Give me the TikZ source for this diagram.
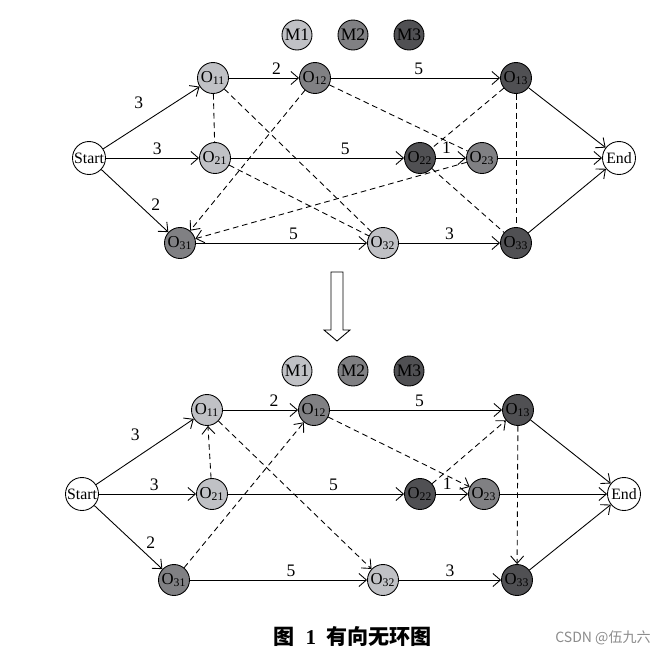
\documentclass[tikz,border=0pt]{standalone}
\usepackage{fontspec}
\setmainfont{Liberation Serif}
\newfontfamily\cjkfont{Noto Sans CJK SC}
\usetikzlibrary{arrows.meta}
\definecolor{maschA}{RGB}{192,193,197}
\definecolor{maschB}{RGB}{128,128,131}
\definecolor{maschC}{RGB}{80,80,83}
\tikzset{
  op/.style={circle,draw,line width=0.5pt,inner sep=0pt,minimum size=0.62cm,font=\fontsize{9.5}{10}\selectfont},
  rand/.style={op,fill=white,minimum size=0.66cm,font=\fontsize{9}{10}\selectfont},
  masch/.style={op,minimum size=0.6cm,font=\fontsize{10}{10}\selectfont},
  pfeil/.style={-{Straight Barb[length=1.5mm,width=2.6mm]},line width=0.5pt},
  abh/.style={dashed,dash pattern=on 3.2pt off 2.2pt,line width=0.5pt},
  abhpfeil/.style={abh,-{Straight Barb[length=1.5mm,width=2.6mm]}},
  lab/.style={font=\fontsize{10}{10}\selectfont,inner sep=1.5pt}
}
\begin{document}
\begin{tikzpicture}[x=0.02cm,y=-0.02cm]
\useasboundingbox (0,0) rectangle (667,657);
% Legende: Maschinen
\node[masch,fill=maschA] (m1) at (297,35) {M1};
\node[masch,fill=maschB] (m2) at (353,35) {M2};
\node[masch,fill=maschC] (m3) at (409,35) {M3};
% oberer Graph: Knoten
\node[rand] (s) at (89,158) {Start};
\node[rand] (e) at (619,158) {End};
\node[op,fill=maschA] (o11) at (213,78) {O\textsubscript{11}};
\node[op,fill=maschB] (o12) at (315,78) {O\textsubscript{12}};
\node[op,fill=maschC] (o13) at (516,78) {O\textsubscript{13}};
\node[op,fill=maschA] (o21) at (215,158) {O\textsubscript{21}};
\node[op,fill=maschC] (o22) at (420,158) {O\textsubscript{22}};
\node[op,fill=maschB] (o23) at (482,158) {O\textsubscript{23}};
\node[op,fill=maschB] (o31) at (180,243) {O\textsubscript{31}};
\node[op,fill=maschA] (o32) at (383,243) {O\textsubscript{32}};
\node[op,fill=maschC] (o33) at (516,243) {O\textsubscript{33}};
% oberer Graph: Arbeitsfolgen
\draw[pfeil] (s) -- node[lab,above=8pt,pos=.37] {3} (o11);
\draw[pfeil] (s) -- node[lab,above,pos=.55] {3} (o21);
\draw[pfeil] (s) -- node[lab,above right,pos=.7] {2} (o31);
\draw[pfeil] (o11) -- node[lab,above,pos=.68] {2} (o12);
\draw[pfeil] (o12) -- node[lab,above,pos=.52] {5} (o13);
\draw[pfeil] (o21) -- node[lab,above,pos=.66] {5} (o22);
\draw[pfeil] (o22) -- node[lab,above=1pt,pos=.35] {1} (o23);
\draw[pfeil] (o31) -- node[lab,above,pos=.57] {5} (o32);
\draw[pfeil] (o32) -- node[lab,above,pos=.5] {3} (o33);
\draw[pfeil] (o13) -- (e);
\draw[pfeil] (o23) -- (e);
\draw[pfeil] (o33) -- (e);
% oberer Graph: Maschinenkanten (ungerichtet)
\draw[abh] (o11) -- (o21);
\draw[abh] (o11) -- (o32);
\draw[abhpfeil] (o12) -- (o31);
\draw[abh] (o12) -- (o23);
\draw[abh] (o21) -- (o32);
\draw[abh] (o13) -- (o22);
\draw[abh] (o13) -- (o33);
\draw[abh] (o22) -- (o33);
\draw[abhpfeil] (o23) -- (o31);
% Hohlpfeil
\draw[line width=0.5pt] (331,272) -- (343,272) -- (343,330) -- (350,330) -- (337,341)
  -- (324,330) -- (331,330) -- cycle;
% Legende unten
\node[masch,fill=maschA] (n1) at (297,371) {M1};
\node[masch,fill=maschB] (n2) at (353,371) {M2};
\node[masch,fill=maschC] (n3) at (409,371) {M3};
% unterer Graph: Knoten
\node[rand] (t) at (82,494) {Start};
\node[rand] (f) at (624,494) {End};
\node[op,fill=maschA] (p11) at (207,410) {O\textsubscript{11}};
\node[op,fill=maschB] (p12) at (314,410) {O\textsubscript{12}};
\node[op,fill=maschC] (p13) at (518,410) {O\textsubscript{13}};
\node[op,fill=maschA] (p21) at (212,494) {O\textsubscript{21}};
\node[op,fill=maschC] (p22) at (420,494) {O\textsubscript{22}};
\node[op,fill=maschB] (p23) at (484,494) {O\textsubscript{23}};
\node[op,fill=maschB] (p31) at (174,580) {O\textsubscript{31}};
\node[op,fill=maschA] (p32) at (383,580) {O\textsubscript{32}};
\node[op,fill=maschC] (p33) at (517,580) {O\textsubscript{33}};
% unterer Graph: Arbeitsfolgen
\draw[pfeil] (t) -- node[lab,above=8pt,pos=.4] {3} (p11);
\draw[pfeil] (t) -- node[lab,above,pos=.57] {3} (p21);
\draw[pfeil] (t) -- node[lab,above right,pos=.72] {2} (p31);
\draw[pfeil] (p11) -- node[lab,above,pos=.68] {2} (p12);
\draw[pfeil] (p12) -- node[lab,above,pos=.52] {5} (p13);
\draw[pfeil] (p21) -- node[lab,above,pos=.6] {5} (p22);
\draw[pfeil] (p22) -- node[lab,above=1pt,pos=.35] {1} (p23);
\draw[pfeil] (p31) -- node[lab,above,pos=.57] {5} (p32);
\draw[pfeil] (p32) -- node[lab,above,pos=.5] {3} (p33);
\draw[pfeil] (p13) -- (f);
\draw[pfeil] (p23) -- (f);
\draw[pfeil] (p33) -- (f);
% unterer Graph: gerichtete Maschinenkanten
\draw[abhpfeil] (p21) -- (p11);
\draw[abhpfeil] (p31) -- (p12);
\draw[abhpfeil] (p11) -- (p32);
\draw[abhpfeil] (p12) -- (p23);
\draw[abhpfeil] (p22) -- (p13);
\draw[abhpfeil] (p13) -- (p33);
% Bildunterschrift
\node[font=\cjkfont\bfseries\fontsize{12}{13}\selectfont] (cap) at (353,636)
  {图\hspace{0.5em}{\rmfamily\bfseries 1}\hspace{0.5em}有向无环图};
\node[font=\cjkfont\fontsize{8}{9}\selectfont,text=black!45] (wm) at (603,638) {CSDN @伍九六};
\end{tikzpicture}
\end{document}
